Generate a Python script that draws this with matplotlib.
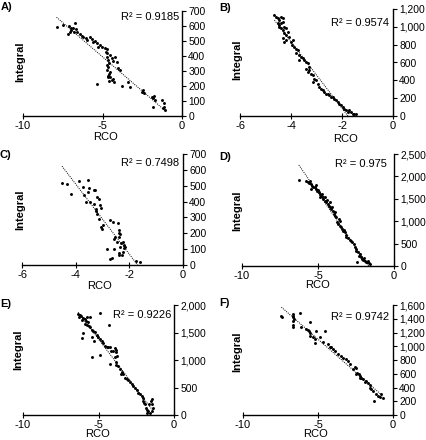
import numpy as np
import matplotlib
matplotlib.use("Agg")
import matplotlib.pyplot as plt
from matplotlib.ticker import FuncFormatter, FixedLocator

plt.rcParams['font.family'] = ['Liberation Sans', 'DejaVu Sans']
plt.rcParams['axes.unicode_minus'] = False

# ---------------- data ----------------
panel_labels = ["A)", "B)", "C)", "D)", "E)", "F)"]
r2_texts = ["R² = 0.9185", "R² = 0.9574", "R² = 0.7498", "R² = 0.975", "R² = 0.9226", "R² = 0.9742"]

xA = [-7.89, -7.47, -7.12, -6.99, -6.95, -6.84, -6.74, -6.67, -7.16, -7.05, -6.80, -6.59, -6.42, -6.32,
      -6.21, -6.04, -5.96, -5.79, -5.68, -5.58, -5.47, -5.37, -5.26, -5.16, -5.05, -4.84, -4.69, -4.78,
      -5.37, -4.74, -4.69, -4.63, -4.53, -4.57, -4.42, -4.32, -4.21, -4.74, -4.63, -4.69, -4.53, -4.57,
      -4.67, -4.63, -4.53, -4.42, -4.32, -4.25, -4.59, -4.00, -4.06, -3.89, -3.79, -3.37, -3.26, -2.53,
      -2.42, -2.46, -1.89, -1.83, -1.75, -1.68, -1.85, -1.26, -1.16, -1.12, -1.20, -1.05]
yA = [595, 607, 600, 584, 573, 589, 618, 580, 544, 562, 558, 562, 547, 533,
      529, 518, 507, 524, 511, 496, 502, 489, 462, 473, 458, 451, 444, 429,
      211, 418, 396, 373, 407, 356, 384, 369, 391, 340, 329, 307, 296, 280,
      267, 258, 262, 240, 244, 229, 233, 318, 362, 307, 200, 229, 191, 162,
      151, 173, 129, 118, 133, 107, 62, 107, 84, 62, 51, 40]

xB = [-4.65, -4.59, -4.52, -4.46, -4.39, -4.33, -4.52, -4.46, -4.39, -4.33, -4.46, -4.39, -4.33, -4.26,
      -4.20, -4.26, -4.20, -4.13, -4.30, -4.26, -4.20, -4.07, -4.00, -3.94, -3.96, -3.87, -3.80, -3.74,
      -3.80, -3.67, -3.61, -3.54, -3.70, -3.48, -3.41, -3.35, -3.28, -3.41, -3.35, -3.28, -3.22, -3.15,
      -3.09, -3.02, -3.15, -2.95, -2.89, -2.82, -2.76, -2.69, -2.63, -2.56, -2.50, -2.43, -2.37, -2.30,
      -2.24, -2.17, -2.10, -2.04, -1.97, -1.91, -1.84, -1.78, -1.71, -1.65, -1.58, -1.52, -1.45]
yB = [1132, 1114, 1095, 1076, 1114, 1095, 1039, 1020, 1039, 1057, 1001, 982, 964, 1001,
      982, 926, 907, 945, 870, 832, 851, 889, 832, 851, 795, 776, 757, 739,
      701, 682, 664, 645, 626, 626, 607, 589, 551, 532, 495, 514, 476, 457,
      420, 401, 382, 364, 326, 307, 289, 270, 251, 251, 232, 214, 214, 195,
      176, 157, 139, 120, 101, 82, 64, 45, 64, 45, 26, 19, 26]

xC = [-4.51, -4.32, -4.16, -3.89, -3.73, -3.55, -3.52, -3.55, -3.61, -3.68, -3.48, -3.33, -3.29, -3.20,
      -3.14, -3.30, -3.23, -3.25, -3.20, -3.08, -3.06, -3.14, -3.04, -2.98, -3.01, -2.71, -2.62, -2.42,
      -2.37, -2.37, -2.34, -2.40, -2.52, -2.58, -2.46, -2.31, -2.24, -2.19, -2.15, -2.34, -2.37, -2.27,
      -2.40, -2.65, -2.71, -2.83, -2.58, -2.25, -2.21, -1.75, -1.59]
yC = [518, 508, 449, 529, 495, 533, 487, 460, 397, 439, 397, 470, 474, 428,
      418, 387, 355, 339, 324, 376, 359, 293, 240, 251, 230, 282, 272, 265,
      219, 203, 194, 178, 178, 167, 146, 136, 146, 125, 115, 115, 73, 63,
      63, 42, 36, 104, 104, 84, 109, 27, 21]

xD = [-6.26, -5.78, -5.67, -5.60, -5.52, -5.45, -5.38, -5.34, -5.45, -5.23, -5.16, -5.12, -5.08, -5.01,
      -4.95, -4.90, -4.86, -4.79, -4.73, -4.68, -4.64, -4.57, -4.51, -4.46, -4.42, -4.35, -4.29, -4.24,
      -4.20, -4.13, -4.07, -4.02, -3.98, -3.91, -3.85, -3.80, -3.76, -3.69, -3.63, -3.58, -3.54, -3.47,
      -3.41, -3.36, -3.30, -3.25, -3.19, -3.14, -3.03, -2.92, -2.86, -2.75, -2.66, -2.59, -2.53, -2.48,
      -2.37, -2.31, -2.26, -2.20, -2.11, -2.04, -1.98, -1.93, -1.87, -1.78, -1.71, -1.65, -1.56, -2.42]
yD = [1927, 1905, 1882, 1845, 1890, 1830, 1793, 1756, 1719, 1771, 1815, 1719, 1681, 1696,
      1644, 1607, 1533, 1570, 1607, 1533, 1495, 1548, 1458, 1421, 1473, 1384, 1347, 1421,
      1309, 1272, 1324, 1235, 1161, 1198, 1123, 1086, 975, 937, 1049, 1012, 900, 863,
      826, 789, 804, 751, 699, 640, 625, 580, 551, 528, 491, 417, 379, 342,
      305, 231, 268, 193, 156, 134, 179, 119, 97, 82, 104, 60, 45, 97]

xE = [-6.35, -6.24, -6.28, -6.13, -6.02, -6.06, -5.91, -5.84, -5.75, -5.69, -5.58, -5.91, -5.75, -5.62,
      -6.02, -6.06, -5.53, -5.46, -5.35, -5.24, -5.13, -5.40, -5.29, -5.02, -4.91, -4.80, -4.69, -4.58,
      -4.47, -4.36, -4.25, -4.14, -4.03, -3.92, -3.85, -3.81, -3.76, -3.92, -4.91, -4.31, -5.40, -4.91,
      -4.25, -3.85, -3.81, -3.69, -3.58, -3.47, -3.54, -3.36, -3.25, -3.14, -3.03, -2.92, -2.81, -2.70,
      -2.59, -2.48, -2.37, -2.26, -2.15, -2.08, -2.04, -1.97, -1.92, -1.86, -1.81, -1.70, -1.59, -1.48,
      -1.44, -1.48, -1.55, -1.64, -1.81, -1.37]
yE = [1836, 1818, 1788, 1800, 1763, 1727, 1745, 1715, 1775, 1684, 1775, 1654, 1642, 1623,
      1484, 1392, 1593, 1544, 1520, 1502, 1459, 1411, 1350, 1411, 1380, 1338, 1301, 1259,
      1228, 1240, 1228, 1167, 1155, 1216, 1180, 1137, 1076, 1046, 1848, 1642, 1046, 1094,
      924, 955, 912, 894, 833, 790, 742, 742, 681, 651, 632, 608, 559, 529,
      486, 450, 407, 389, 347, 304, 255, 225, 195, 134, 85, 73, 43, 73,
      195, 286, 255, 195, 30, 134]

xF = [-7.44, -7.38, -6.67, -6.67, -6.67, -6.60, -6.67, -6.67, -6.67, -6.22, -6.11, -5.78, -5.67, -5.56,
      -5.60, -5.56, -5.51, -5.33, -5.22, -5.11, -4.89, -5.22, -4.56, -4.67, -4.33, -4.22, -4.11, -4.00,
      -3.89, -3.67, -3.44, -3.33, -3.11, -3.00, -2.89, -2.67, -2.44, -2.40, -2.44, -2.22, -2.11, -2.00,
      -1.78, -1.67, -1.56, -1.44, -1.33, -1.11, -1.00, -0.89, -0.67, -1.24, -0.78, -2.56, -2.29, -2.18,
      -1.89, -1.56]
yF = [1444, 1420, 1469, 1444, 1420, 1396, 1371, 1313, 1284, 1478, 1274, 1250, 1235, 1347,
      1216, 1187, 1153, 1128, 1104, 1225, 1128, 1041, 1225, 1055, 1031, 992, 982, 958,
      934, 885, 861, 836, 812, 788, 739, 666, 681, 618, 593, 569, 545, 520,
      496, 472, 399, 374, 350, 302, 277, 263, 243, 204, 302, 700, 593, 535,
      486, 438]

xs = [xA, xB, xC, xD, xE, xF]
ys = [yA, yB, yC, yD, yE, yF]
xlims = [(-10, 0), (-6, 0), (-6, 0), (-10, 0), (-10, 0), (-10, 0)]
xticks = [[-10, -5, 0], [-6, -4, -2, 0], [-6, -4, -2, 0], [-10, -5, 0], [-10, -5, 0], [-10, -5, 0]]
ymaxes = [700, 1200, 700, 2500, 2000, 1600]
ysteps = [100, 200, 100, 500, 500, 200]

# ---------------- layout (pixel boxes: left, right, top, bottom) ----------------
W, H = 426, 440
boxes = [(23, 182, 11, 116), (240, 393, 9, 116),
         (22, 183, 154, 265), (242, 394, 154, 266),
         (23, 174, 305, 415), (243, 393, 305, 415)]
label_pos = [(1, 2), (219, 3), (0, 150), (219, 152), (0, 299), (219, 298)]
integral_pos = [(20, 62), (237, 60), (20, 210), (237, 211), (18, 350), (237, 352)]
rco_pos = [(105, 137), (345, 139), (100, 286), (317, 285), (98, 434), (316, 434)]
r2_pos = [(179, 17), (389, 23), (179, 163), (387, 164), (171, 315), (389, 317)]

fig = plt.figure(figsize=(W / 100, H / 100), dpi=100)
fs = 8
fs_y = 7.4

def fx(px):
    return px / W

def fy(py):
    return 1 - py / H

for i in range(6):
    l, r, t, b = boxes[i]
    ax = fig.add_axes([fx(l), fy(b), fx(r) - fx(l), fy(t) - fy(b)])
    x = np.array(xs[i]); y = np.array(ys[i])
    ax.scatter(x, y, s=4.5, color='black', linewidths=0, zorder=3)
    k, c = np.polyfit(x, y, 1)
    xx = np.array([x.min(), x.max()])
    ax.plot(xx, k * xx + c, color='black', lw=0.7, ls=(0, (1, 1.2)), zorder=2)
    ax.set_xlim(*xlims[i])
    ax.set_ylim(0, ymaxes[i])
    ax.set_facecolor('none')
    for s in ['top', 'left']:
        ax.spines[s].set_visible(False)
    ax.spines['right'].set_linewidth(1.0)
    ax.spines['bottom'].set_linewidth(1.0)
    ax.yaxis.tick_right()
    ax.xaxis.set_major_locator(FixedLocator(xticks[i]))
    ax.yaxis.set_major_locator(FixedLocator(list(range(0, ymaxes[i] + 1, ysteps[i]))))
    ax.yaxis.set_major_formatter(FuncFormatter(lambda v, p: f"{v:,.0f}"))
    ax.xaxis.set_major_formatter(FuncFormatter(lambda v, p: f"{v:.0f}"))
    ax.tick_params(axis='y', direction='out', length=3, width=0.8, labelsize=fs_y, pad=1.5)
    ax.tick_params(axis='x', direction='inout', length=5, width=0.8, labelsize=fs, pad=1)
    for sp in ['bottom', 'right']:
        ax.spines[sp].set_clip_on(False)
    fig.text(fx(label_pos[i][0]), fy(label_pos[i][1]), panel_labels[i], fontsize=fs,
             fontweight='bold', ha='left', va='top')
    fig.text(fx(integral_pos[i][0]), fy(integral_pos[i][1]), "Integral", fontsize=fs,
             fontweight='bold', rotation=90, ha='center', va='center')
    fig.text(fx(rco_pos[i][0]), fy(rco_pos[i][1]), "RCO", fontsize=fs,
             ha='center', va='center')
    fig.text(fx(r2_pos[i][0]), fy(r2_pos[i][1]), r2_texts[i], fontsize=fs,
             ha='right', va='center')

fig.savefig("out.png", dpi=100)
